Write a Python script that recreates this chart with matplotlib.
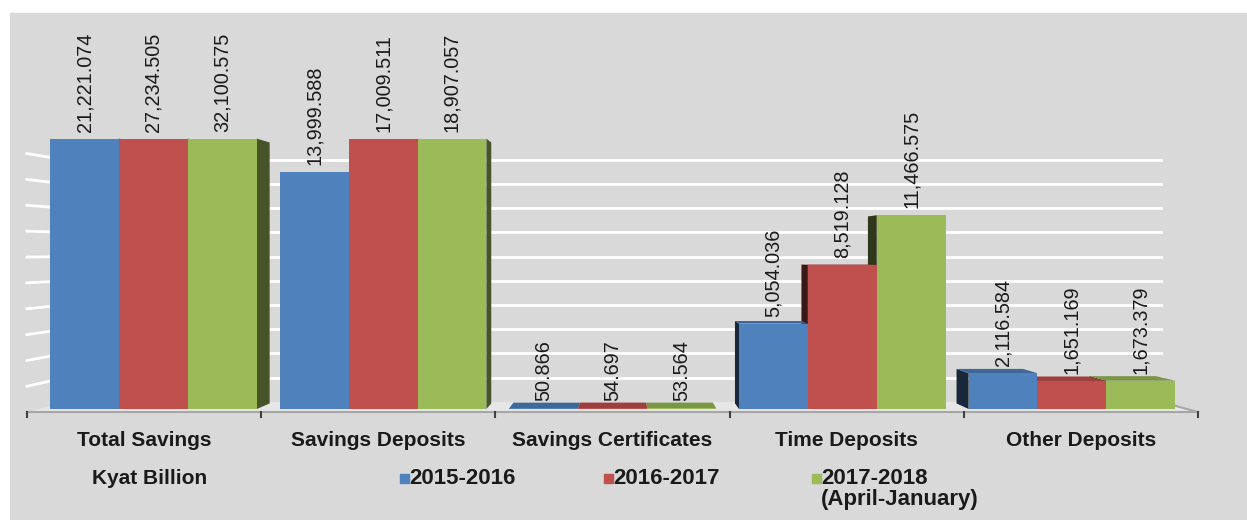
import numpy as np
import matplotlib
matplotlib.use('Agg')
import matplotlib.pyplot as plt
from matplotlib.patches import Polygon, Rectangle
from matplotlib import transforms
from matplotlib.colors import to_rgb

plt.rcParams['font.family'] = ['Liberation Sans', 'DejaVu Sans']

categories = ['Total Savings', 'Savings Deposits', 'Savings Certificates',
              'Time Deposits', 'Other Deposits']
series_names = ['2015-2016', '2016-2017', '2017-2018\n(April-January)']
vals_2015 = [21221.074, 13999.588, 50.866, 5054.036, 2116.584]
vals_2016 = [27234.505, 17009.511, 54.697, 8519.128, 1651.169]
vals_2017 = [32100.575, 18907.057, 53.564, 11466.575, 1673.379]
series = [vals_2015, vals_2016, vals_2017]
unit_label = 'Kyat Billion'

colors = ['#4f81bd', '#c0504d', '#9bbb59']
ymax = 16000
grid_step = 1500
bar_w = 0.3

# fake 3d: points are pulled toward a vanishing point
vp = (2.05, 9400)
back = 0.965   # back face of bars
wall = 0.955   # back wall
front = 1.02   # front edge of floor

W, H = 1247, 520


def persp(x, y, s):
    return vp[0] + s * (x - vp[0]), vp[1] + s * (y - vp[1])


def shade(c, f):
    r, g, b = to_rgb(c)
    return (r * f, g * f, b * f)


fig = plt.figure(figsize=(W / 100, H / 100), dpi=100, facecolor='white')
fig.add_artist(Rectangle((10 / W, 0), 1, (H - 13) / H, transform=fig.transFigure,
                         color='#d9d9d9', zorder=0))
ax = fig.add_axes([15.7 / W, 111 / H, 1194 / W, 270.4 / H])
ax.set_xlim(-0.6, 4.6)
ax.set_ylim(0, ymax)
ax.axis('off')

# floor
x_lo, x_hi = -0.5, len(categories) - 0.5
floor = [persp(x_lo, 0, front), persp(x_hi, 0, front),
         persp(x_hi, 0, wall), persp(x_lo, 0, wall)]
ax.add_patch(Polygon(floor, closed=True, facecolor='#e6e6e6', edgecolor='none',
                     zorder=1, clip_on=False))

# gridlines on back wall + left wall
for v in np.arange(grid_step, ymax, grid_step):
    bx0, by = persp(x_lo, v, wall)
    bx1, _ = persp(x_hi, v, wall)
    ax.plot([bx0, bx1], [by, by], color='white', lw=2, zorder=1, clip_on=False)
    fx, fy = persp(x_lo, v, front)
    ax.plot([fx, bx0], [fy, by], color='white', lw=2, zorder=1, clip_on=False)

# front axis line, right floor edge and ticks
fl, fr = persp(x_lo, 0, front), persp(x_hi, 0, front)
ax.plot([fl[0], fr[0]], [fl[1], fr[1]], color='#a6a6a6', lw=1.5, zorder=1, clip_on=False)
br = persp(x_hi, 0, wall)
ax.plot([fr[0], br[0]], [fr[1], br[1]], color='#a6a6a6', lw=1.5, zorder=1, clip_on=False)
for k in range(len(categories) + 1):
    tx, ty = persp(k - 0.5, 0, front)
    ax.plot([tx, tx], [ty, ty - 300], color='#404040', lw=1.5, zorder=1, clip_on=False)

# bars
x = np.arange(len(categories))
for j, vals in enumerate(series):
    xs = x + (j - 1) * bar_w
    hs = np.minimum(vals, ymax)
    for xc, h in zip(xs, hs):
        x0, x1 = xc - bar_w / 2, xc + bar_w / 2
        if x1 < vp[0]:
            face = [(x1, 0), (x1, h), persp(x1, h, back), persp(x1, 0, back)]
            ax.add_patch(Polygon(face, facecolor=shade(colors[j], 0.45),
                                 edgecolor='none', zorder=2, clip_on=False))
        if x0 > vp[0]:
            face = [(x0, 0), (x0, h), persp(x0, h, back), persp(x0, 0, back)]
            ax.add_patch(Polygon(face, facecolor=shade(colors[j], 0.3),
                                 edgecolor='none', zorder=2, clip_on=False))
        if h < vp[1]:
            top = [(x0, h), (x1, h), persp(x1, h, back), persp(x0, h, back)]
            ax.add_patch(Polygon(top, facecolor=shade(colors[j], 0.8),
                                 edgecolor='none', zorder=2.5, clip_on=False))
    ax.bar(xs, hs, width=bar_w, color=colors[j], zorder=3, clip_on=False)
    for xc, h, v in zip(xs, hs, vals):
        ax.annotate('{:,.3f}'.format(v), (xc, h), xytext=(0, 5),
                    textcoords='offset points', rotation=90, ha='center',
                    va='bottom', fontsize=14.3, color='#1a1a1a', zorder=4)

# category names
trans = transforms.blended_transform_factory(ax.transData, fig.transFigure)
for i, name in enumerate(categories):
    cx, _ = persp(i, 0, front)
    ax.text(cx, (H - 440) / H, name, transform=trans, ha='center', va='center',
            fontsize=15, fontweight='bold', color='#1a1a1a')

fig.text(150 / W, (H - 478) / H, unit_label, ha='center', va='center',
         fontsize=15, fontweight='bold', color='#1a1a1a')

# legend
leg_x = [400, 604, 812]
for j, name in enumerate(series_names):
    fig.add_artist(Rectangle((leg_x[j] / W, (H - 483) / H), 9 / W, 9 / H,
                             transform=fig.transFigure, color=colors[j]))
    lines = name.split('\n')
    fig.text((leg_x[j] + 9) / W, (H - 478) / H, lines[0], ha='left', va='center',
             fontsize=16, fontweight='bold', color='#1a1a1a')
    for n, extra in enumerate(lines[1:]):
        fig.text((leg_x[j] + 9) / W, (H - 478 - 22 * (n + 1)) / H, extra,
                 ha='left', va='center', fontsize=16, fontweight='bold',
                 color='#1a1a1a')

fig.savefig('out.png', dpi=100, facecolor=fig.get_facecolor())
